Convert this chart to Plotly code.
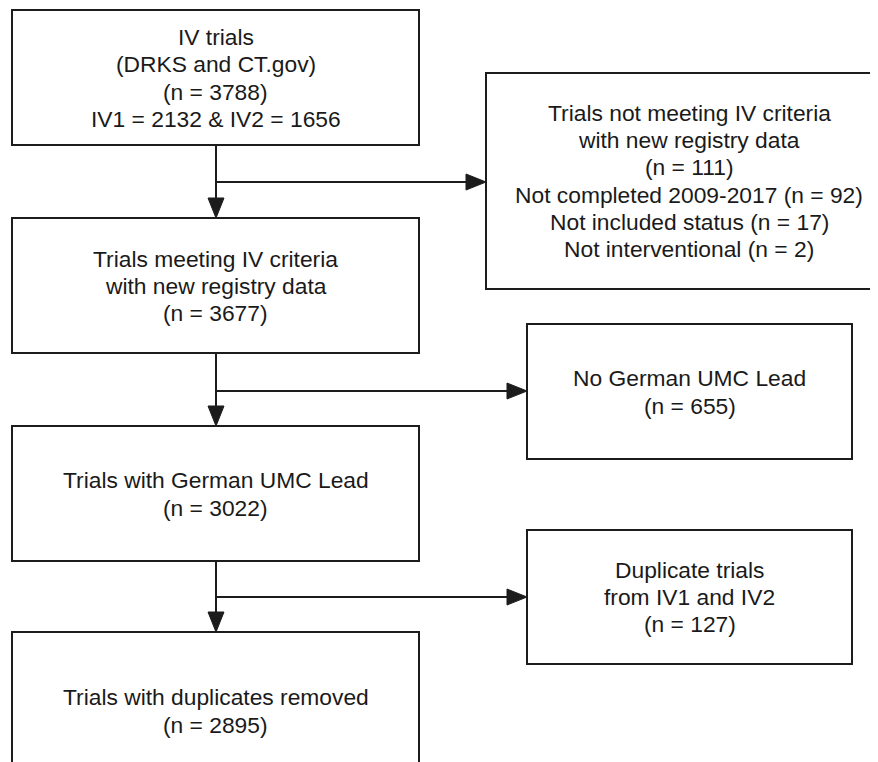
import plotly.graph_objects as go

# ---- data ----
main_labels = [["IV trials", "(DRKS and CT.gov)"],
               ["Trials meeting IV criteria", "with new registry data"],
               ["Trials with German UMC Lead"],
               ["Trials with duplicates removed"]]
main_n = [3788, 3677, 3022, 2895]
iv_split = {"IV1": 2132, "IV2": 1656}

excl_labels = [["Trials not meeting IV criteria", "with new registry data"],
               ["No German UMC Lead"],
               ["Duplicate trials", "from IV1 and IV2"]]
excl_n = [111, 655, 127]
excl_reasons = ["Not completed 2009-2017", "Not included status", "Not interventional"]
excl_reason_n = [92, 17, 2]

# ---- geometry (page pixels, y downward) ----
W, H = 878, 762
PAD = 8  # browser body margin
main_x = (12, 419)
main_y = [(10, 145), (218, 353), (426, 561), (632, 790)]
main_text_cy = [78, 286, 494, 711]
side_x = [(486, 892), (527, 852), (527, 852)]
side_y = [(73, 289), (324, 459), (530, 664)]
side_text_cy = [181, 392, 597]
trunk_x = 216
branch_y = [182, 391, 597]
LINE_STEP = 27.3

LC = "#1c1c1c"
FONT = dict(family="Liberation Sans, Arial, sans-serif", size=22.8, color="#1a1a1a")

main_texts = []
for i, (lab, n) in enumerate(zip(main_labels, main_n)):
    t = list(lab) + [f"(n = {n})"]
    if i == 0:
        t.append(f"IV1 = {iv_split['IV1']} & IV2 = {iv_split['IV2']}")
    main_texts.append(t)
excl_texts = []
for i, (lab, n) in enumerate(zip(excl_labels, excl_n)):
    t = list(lab) + [f"(n = {n})"]
    if i == 0:
        t += [f"{r} (n = {m})" for r, m in zip(excl_reasons, excl_reason_n)]
    excl_texts.append(t)

fig = go.Figure()
shapes = []
annotations = []

def box(x0, x1, y0, y1):
    shapes.append(dict(type="rect", xref="x", yref="y", x0=x0, x1=x1, y0=y0, y1=y1,
                       line=dict(color=LC, width=2), fillcolor="white", layer="above"))

def line(x0, y0, x1, y1):
    shapes.append(dict(type="line", xref="x", yref="y", x0=x0, y0=y0, x1=x1, y1=y1,
                       line=dict(color=LC, width=2), layer="above"))

def tri(path):
    shapes.append(dict(type="path", xref="x", yref="y", path=path,
                       fillcolor=LC, line=dict(color=LC, width=1), layer="above"))

def text_block(cx, cy, lines):
    n = len(lines)
    for k, s in enumerate(lines):
        annotations.append(dict(x=cx, y=cy + (k - (n - 1) / 2) * LINE_STEP,
                                xref="x", yref="y", text=s, showarrow=False,
                                font=FONT, xanchor="center", yanchor="middle"))

AL, AW = 20, 8

for (y0, y1), txt, cy in zip(main_y, main_texts, main_text_cy):
    box(main_x[0], main_x[1], y0, y1)
    text_block((main_x[0] + main_x[1]) / 2, cy, txt)

for (x0, x1), (y0, y1), txt, cy in zip(side_x, side_y, excl_texts, side_text_cy):
    box(x0, x1, y0, y1)
    text_block((x0 + x1) / 2, cy, txt)

for i in range(3):
    top = main_y[i][1]
    bot = main_y[i + 1][0]
    line(trunk_x, top, trunk_x, bot - AL + 2)
    tri(f"M {trunk_x - AW},{bot - AL} L {trunk_x + AW},{bot - AL} L {trunk_x},{bot} Z")
    by = branch_y[i]
    sx = side_x[i][0]
    line(trunk_x, by, sx - AL + 2, by)
    tri(f"M {sx - AL},{by - AW} L {sx - AL},{by + AW} L {sx},{by} Z")

fig.update_layout(
    width=W - PAD, height=H - PAD, margin=dict(l=0, r=0, t=0, b=0),
    paper_bgcolor="white", plot_bgcolor="white",
    xaxis=dict(range=[PAD, W], visible=False, fixedrange=True),
    yaxis=dict(range=[H, PAD], visible=False, fixedrange=True),
    shapes=shapes, annotations=annotations, showlegend=False,
)

fig.write_html("out.html", config={"displayModeBar": False})
